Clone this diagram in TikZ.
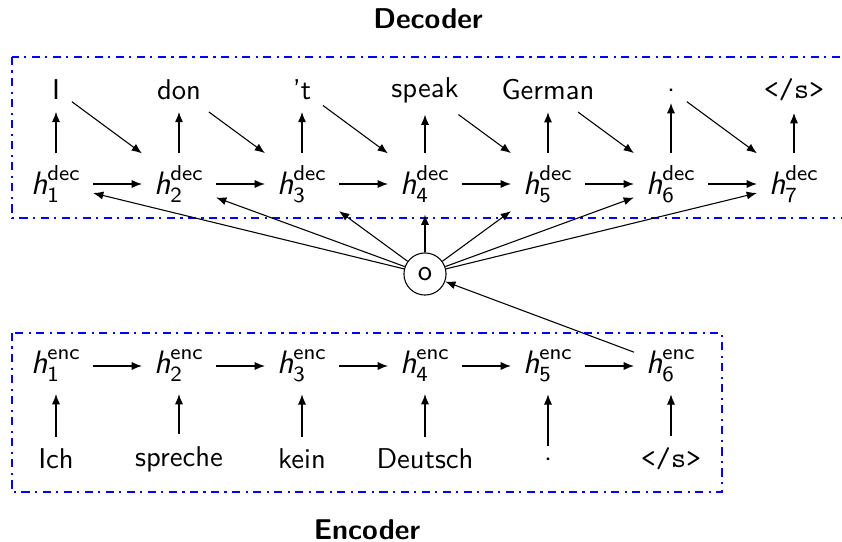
\documentclass[tikz,border=0pt]{standalone}
\usepackage{fontspec}
\usepackage{amsmath}
\usetikzlibrary{arrows.meta}

\newcommand\hdec[1]{$\textit{h}^{\textsf{dec}}_{\textsf{#1}}$}
\newcommand\henc[1]{$\textit{h}^{\textsf{enc}}_{\textsf{#1}}$}

\tikzset{
  word/.style={font=\sffamily\fontsize{10.6}{12}\selectfont, inner sep=4.2pt},
  hid/.style={font=\sffamily\fontsize{12}{14}\selectfont, inner sep=4.3pt},
  attn/.style={circle, draw, thin, minimum size=15.6pt, inner sep=0pt,
               font=\sffamily\fontsize{10.6}{12}\selectfont},
  heading/.style={font=\sffamily\bfseries\fontsize{10.6}{12}\selectfont},
  arr/.style={-{Latex[length=3.8pt,width=3pt]}, thin},
  groupbox/.style={draw=blue, thick, dash dot},
}

\begin{document}
\begin{tikzpicture}[x=0.3704pt, y=-0.3704pt]
  \useasboundingbox (0,0) rectangle (842,542);

  % group frames
  \draw[groupbox] (12,57) rectangle (844,218);
  \draw[groupbox] (12,333) rectangle (722,492);
  \node[heading] (dectitle) at (428,19) {Decoder};
  \node[heading] (enctitle) at (367,530) {Encoder};

  % decoder states and outputs
  \foreach \i/\x/\w in {1/56/I, 2/179/don, 3/302/'t, 4/425/speak, 5/548/German,
                        6/671/., 7/794/\texttt{</s>}} {
    \node[hid]  (hd\i) at (\x,184) {\hdec{\i}};
    \node[word] (wd\i) at (\x,90) {\w};
  }

  % encoder inputs and states
  \foreach \i/\x/\w in {1/56/Ich, 2/179/spreche, 3/302/kein, 4/425/Deutsch,
                        5/548/., 6/671/\texttt{</s>}} {
    \node[hid]  (he\i) at (\x,366) {\henc{\i}};
    \node[word] (we\i) at (\x,459) {\w};
  }

  % context vector
  \node[attn] (att) at (425,274) {o};

  % decoder connections
  \foreach \i in {1,...,7} {
    \draw[arr] (hd\i) -- (wd\i);
    \draw[arr] (att) -- (hd\i);
  }
  \foreach \i [evaluate=\i as \j using int(\i+1)] in {1,...,6} {
    \draw[arr] (hd\i) -- (hd\j);
    \draw[arr] (wd\i) -- (hd\j.north west);
  }

  % encoder connections
  \foreach \i in {1,...,6} {
    \draw[arr] (we\i) -- (he\i);
  }
  \foreach \i [evaluate=\i as \j using int(\i+1)] in {1,...,5} {
    \draw[arr] (he\i) -- (he\j);
  }
  \draw[arr] (he6) -- (att);
\end{tikzpicture}
\end{document}
